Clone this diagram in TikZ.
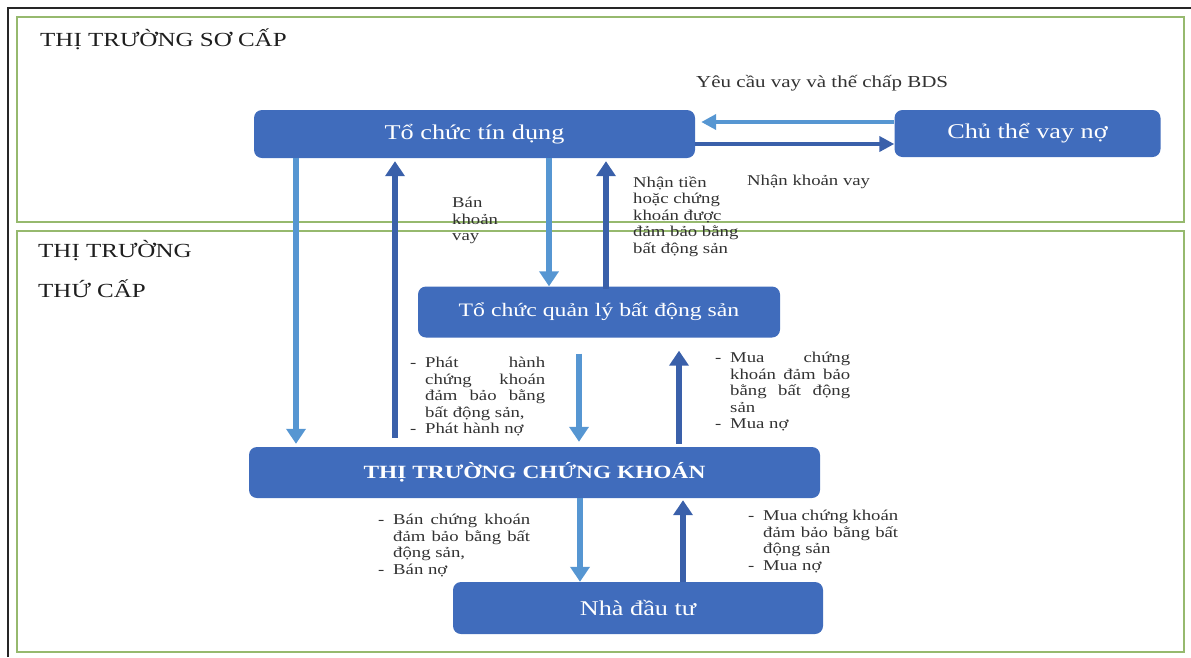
\documentclass[tikz,border=0pt]{standalone}
\usepackage{fontspec}
\setmainfont{Liberation Serif}[FakeStretch=1.25]
\usetikzlibrary{arrows.meta}
\definecolor{nodeblue}{RGB}{64,108,188}
\definecolor{darkarr}{RGB}{58,96,170}
\definecolor{lightarr}{RGB}{86,150,210}
\definecolor{framegreen}{RGB}{150,185,110}
\definecolor{labgray}{RGB}{50,50,50}
\definecolor{titlegray}{RGB}{30,30,30}
\hyphenpenalty=10000
\tolerance=9999
\emergencystretch=20pt
\newcommand{\ditem}[1]{\noindent\hangindent=15pt\hangafter=1\makebox[15pt][l]{-}\ignorespaces#1\par}
\tikzset{
  box/.style={fill=nodeblue, rounded corners=8pt, text=white, inner sep=0pt,
    font=\fontsize{21}{25}\selectfont},
  lt/.style={-{Triangle[width=19pt,length=15pt]}, line width=6pt, draw=lightarr},
  dk/.style={-{Triangle[width=19pt,length=15pt]}, line width=6pt, draw=darkarr},
  lth/.style={-{Triangle[width=15pt,length=15pt]}, line width=4.5pt, draw=lightarr},
  dkh/.style={-{Triangle[width=15pt,length=15pt]}, line width=4.5pt, draw=darkarr},
  lbl/.style={text=labgray, inner sep=0pt, font=\fontsize{15}{16.5}\selectfont},
  sect/.style={text=titlegray, inner sep=0pt, font=\fontsize{20}{24}\selectfont},
  frame/.style={draw=framegreen, line width=1.5pt},
}
\begin{document}
\begin{tikzpicture}[x=1pt,y=-1pt]
\useasboundingbox (0,0) rectangle (1191,657);
% outer border
\draw[line width=1.6pt, draw=black!85] (8,657) -- (8,8) -- (1191,8);
% frames
\draw[frame] (17,17) rectangle (1184,222);
\draw[frame] (17,231) rectangle (1184,652);
% section titles
\node[sect, anchor=base west] (s1) at (40,46) {THỊ TRƯỜNG SƠ CẤP};
\node[sect, anchor=base west] (s2) at (38,257) {THỊ TRƯỜNG};
\node[sect, anchor=base west] (s3) at (38,297) {THỨ CẤP};
% nodes
\node[box, minimum width=441pt, minimum height=48pt] (tctd) at (474.5,134) {Tổ chức tín dụng};
\node[box, minimum width=266pt, minimum height=47pt] (ctv) at (1027.5,133.5) {Chủ thể vay nợ};
\node[box, minimum width=362pt, minimum height=51pt, font=\fontsize{19}{23}\selectfont] (ql) at (599,312) {Tổ chức quản lý bất động sản};
\node[box, minimum width=571pt, minimum height=51pt, font=\fontsize{18.7}{23}\selectfont\bfseries] (ck) at (534.5,472.5) {THỊ TRƯỜNG CHỨNG KHOÁN};
\node[box, minimum width=370pt, minimum height=52pt] (ndt) at (638,608) {Nhà đầu tư};
% horizontal arrows
\draw[lth, shorten >=6pt] (ctv.west |- 0,122) -- (tctd.east |- 0,122);
\draw[dkh] (tctd.east |- 0,144) -- (ctv.west |- 0,144);
% vertical arrows
\draw[lt, shorten >=3pt] (296,0 |- tctd.south) -- (296,0 |- ck.north);
\draw[dk, shorten <=9pt, shorten >=3pt] (395,0 |- ck.north) -- (395,0 |- tctd.south);
\draw[lt] (549,0 |- tctd.south) -- (549,0 |- ql.north);
\draw[dk, shorten <=-3pt, shorten >=3pt] (606,0 |- ql.north) -- (606,0 |- tctd.south);
\draw[lt, shorten <=16pt, shorten >=5pt] (579,0 |- ql.south) -- (579,0 |- ck.north);
\draw[dk, shorten <=3pt, shorten >=13pt] (679,0 |- ck.north) -- (679,0 |- ql.south);
\draw[lt] (580,0 |- ck.south) -- (580,0 |- ndt.north);
\draw[dk, shorten >=2pt] (683,0 |- ndt.north) -- (683,0 |- ck.south);
% labels
\node[lbl, anchor=base west, font=\fontsize{16.8}{20}\selectfont] (yc) at (696,87) {Yêu cầu vay và thế chấp BDS};
\node[lbl, anchor=base west] (nkv) at (747,185) {Nhận khoản vay};
\node[lbl, anchor=north west, align=left] (bkv) at (452,197) {Bán\\khoản\\vay};
\node[lbl, anchor=north west, align=left] (nt) at (633,176) {Nhận tiền\\hoặc chứng\\khoán được\\đảm bảo bằng\\bất động sản};
\node[lbl, anchor=north west, text width=135pt, align=justify] (ml) at (410,357)
  {\ditem{Phát hành chứng khoán đảm bảo bằng bất động sản,}\ditem{Phát hành nợ}};
\node[lbl, anchor=north west, text width=135pt, align=justify] (mr) at (715,352)
  {\ditem{Mua chứng khoán đảm bảo bằng bất động sản}\ditem{Mua nợ}};
\node[lbl, anchor=north west, text width=152pt, align=justify] (bl) at (378,514)
  {\ditem{Bán chứng khoán đảm bảo bằng bất động sản,}\ditem{Bán nợ}};
\node[lbl, anchor=north west, text width=150pt, align=justify] (br) at (748,510)
  {\ditem{Mua chứng khoán đảm bảo bằng bất động sản}\ditem{Mua nợ}};
\end{tikzpicture}
\end{document}
